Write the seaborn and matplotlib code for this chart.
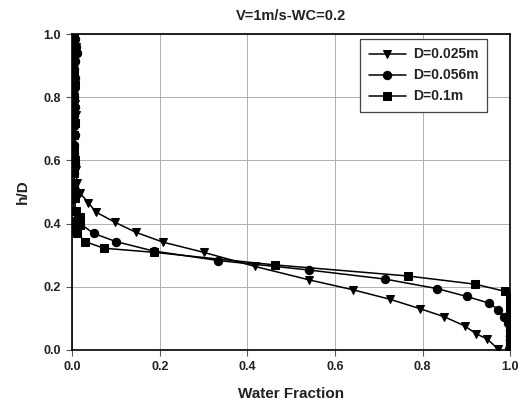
import matplotlib
matplotlib.use("Agg")
import matplotlib.pyplot as plt
import seaborn as sns
import pandas as pd

# ---- data ----
d025_x = [0.005, 0.008, 0.004, 0.006, 0.003, 0.007, 0.004, 0.006, 0.008, 0.003, 0.005, 0.004,
          0.006, 0.008, 0.012, 0.018, 0.037, 0.055, 0.098, 0.146, 0.208, 0.300, 0.418, 0.540,
          0.642, 0.726, 0.795, 0.849, 0.896, 0.922, 0.948, 0.972]
d025_y = [0.99, 0.96, 0.93, 0.90, 0.87, 0.84, 0.81, 0.78, 0.745, 0.70, 0.67, 0.64,
          0.60, 0.57, 0.528, 0.497, 0.466, 0.436, 0.404, 0.372, 0.341, 0.309, 0.264, 0.222,
          0.190, 0.160, 0.130, 0.105, 0.076, 0.051, 0.034, 0.003]

d056_x = [0.006, 0.010, 0.012, 0.007, 0.004, 0.006, 0.005, 0.004, 0.006, 0.005, 0.004, 0.006,
          0.005, 0.004, 0.006, 0.005, 0.004, 0.005, 0.002, 0.008, 0.049, 0.100, 0.186, 0.333,
          0.540, 0.715, 0.833, 0.901, 0.952, 0.973, 0.986, 0.996, 1.0, 1.0, 0.999, 1.0, 0.998]
d056_y = [0.985, 0.96, 0.94, 0.915, 0.89, 0.86, 0.83, 0.80, 0.77, 0.74, 0.71, 0.68,
          0.65, 0.62, 0.59, 0.56, 0.53, 0.50, 0.477, 0.41, 0.369, 0.343, 0.313, 0.283,
          0.253, 0.224, 0.194, 0.169, 0.148, 0.127, 0.103, 0.084, 0.063, 0.045, 0.030, 0.015, 0.003]

d01_x = [0.004, 0.006, 0.005, 0.004, 0.006, 0.005, 0.004, 0.006, 0.005, 0.004, 0.006, 0.005,
         0.004, 0.006, 0.008, 0.018, 0.007, 0.018, 0.007, 0.011, 0.030, 0.072, 0.186, 0.463,
         0.766, 0.920, 0.989, 1.0, 1.0, 1.0, 1.0, 1.0, 1.0, 1.0, 1.0, 1.0, 1.0, 1.0]
d01_y = [0.995, 0.96, 0.92, 0.88, 0.84, 0.80, 0.76, 0.72, 0.68, 0.64, 0.60, 0.56,
         0.52, 0.48, 0.44, 0.42, 0.40, 0.395, 0.38, 0.37, 0.343, 0.322, 0.309, 0.269,
         0.234, 0.208, 0.185, 0.168, 0.153, 0.138, 0.122, 0.107, 0.092, 0.076, 0.061, 0.045, 0.030, 0.0]

labels = ["D=0.025m", "D=0.056m", "D=0.1m"]
markers = ["v", "o", "s"]

xticks = [0.0, 0.2, 0.4, 0.6, 0.8, 1.0]
yticks = [0.0, 0.2, 0.4, 0.6, 0.8, 1.0]

sns.set_style("white")
plt.rcParams['font.family'] = ['Liberation Sans', 'DejaVu Sans']

fig = plt.figure(figsize=(5.26, 4.16), dpi=100)
ax = fig.add_axes([0.137, 0.159, 0.833, 0.759])

series = [(d025_x, d025_y), (d056_x, d056_y), (d01_x, d01_y)]
for (xs, ys), lab, mk in zip(series, labels, markers):
    df = pd.DataFrame({"x": xs, "y": ys})
    sns.lineplot(data=df, x="x", y="y", sort=False, estimator=None, ax=ax,
                 color="black", linewidth=1.1, marker=mk, markersize=6,
                 markeredgecolor="black", markerfacecolor="black", label=lab)

ax.set_xlim(0, 1)
ax.set_ylim(0, 1)
ax.set_xticks(xticks)
ax.set_yticks(yticks)
ax.set_xticklabels([f"{t:.1f}" for t in xticks], fontsize=9, fontweight="bold", color="#222222")
ax.set_yticklabels([f"{t:.1f}" for t in yticks], fontsize=9, fontweight="bold", color="#222222")
ax.grid(True, color="#b0b0b0", linewidth=0.7)
ax.set_axisbelow(True)
for s in ax.spines.values():
    s.set_visible(True)
    s.set_color("black")
    s.set_linewidth(1.2)
ax.tick_params(axis="both", direction="out", length=4, width=0.8, color="#555555", pad=4,
               bottom=True, left=True)

ax.set_xlabel("Water Fraction", fontsize=11, fontweight="bold", color="#222222", labelpad=10)
ax.set_ylabel("h/D", fontsize=11, fontweight="bold", color="#222222", labelpad=10)
ax.set_title("V=1m/s-WC=0.2", fontsize=10.5, fontweight="bold", color="#222222", pad=10)

leg = ax.legend(loc="upper right", bbox_to_anchor=(0.947, 0.984), borderaxespad=0,
                frameon=True, fancybox=False,
                edgecolor="#444444", framealpha=1, borderpad=0.6, handlelength=2.7,
                handletextpad=0.5, labelspacing=0.5, prop={"size": 10, "weight": "bold"})
leg.get_frame().set_linewidth(0.9)
for t in leg.get_texts():
    t.set_color("#222222")

fig.savefig("out.png", dpi=100)
